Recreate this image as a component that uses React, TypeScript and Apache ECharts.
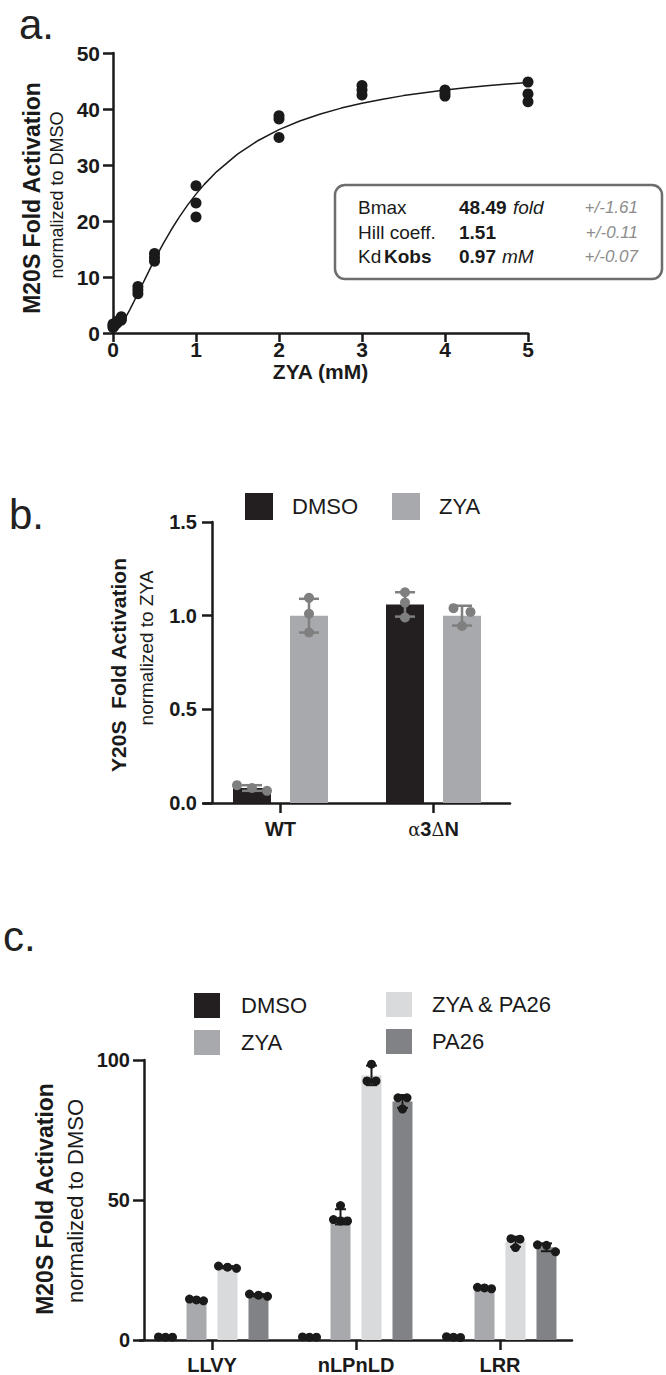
import React, { useEffect, useRef } from 'react';
import * as echarts from 'echarts';

const FONT = "'Liberation Sans', Arial, Helvetica, sans-serif";
const INK = '#1a1a1a';

// ---------- Panel a : dose response ----------
const aConc = [0, 0.05, 0.1, 0.3, 0.5, 1, 2, 3, 4, 5];
const aReps = [
  [1.0, 1.3, 1.6],
  [1.8, 2.1],
  [2.3, 2.6, 2.9],
  [7.0, 7.7, 8.3],
  [12.8, 13.5, 14.2],
  [20.7, 23.2, 26.3],
  [34.9, 38.2, 38.8],
  [42.5, 43.4, 44.2],
  [42.3, 42.8, 43.4],
  [41.3, 42.7, 44.8],
];
const fitX = [0, 0.05, 0.1, 0.15, 0.2, 0.25, 0.3, 0.35, 0.4, 0.45, 0.5, 0.6, 0.7, 0.8, 0.9, 1, 1.1, 1.25, 1.5, 1.75, 2, 2.25, 2.5, 2.75, 3, 3.25, 3.5, 3.75, 4, 4.25, 4.5, 4.75, 5];
const fitY = [0, 0.54, 1.52, 2.73, 4.09, 5.55, 7.05, 8.57, 10.08, 11.58, 13.04, 15.82, 18.39, 20.74, 22.88, 24.8, 26.54, 28.83, 31.95, 34.38, 36.31, 37.86, 39.12, 40.16, 41.03, 41.76, 42.39, 42.92, 43.38, 43.79, 44.14, 44.45, 44.73];
const fitLabels = ['Bmax', 'Hill coeff.', 'Kd'];
const fitValues = ['48.49', '1.51', '0.97'];
const fitUnits = ['fold', '', 'mM'];
const fitErrors = ['+/-1.61', '+/-0.11', '+/-0.07'];

// ---------- Panel b ----------
const bCats = ['WT', 'α3ΔN'];
const bNames = ['DMSO', 'ZYA'];
const bDMSO = [0.08, 1.06];
const bZYA = [1.0, 1.0];
const bDMSOPts = [[0.065, 0.095, 0.08], [0.99, 1.07, 1.125]];
const bZYAPts = [[0.91, 1.01, 1.095], [1.04, 1.02, 0.945]];
const bDMSOSd = [0.015, 0.065];
const bZYASd = [0.09, 0.053];

// ---------- Panel c ----------
const cCats = ['LLVY', 'nLPnLD', 'LRR'];
const cNames = ['DMSO', 'ZYA', 'ZYA & PA26', 'PA26'];
const cDMSO = [1.0, 1.0, 1.0];
const cZYA = [14.3, 44.0, 18.6];
const cZyaPa26 = [26.0, 94.5, 35.1];
const cPA26 = [16.0, 85.2, 33.1];
const cDMSOPts = [[1.0, 1.0, 1.1], [1.0, 1.1, 1.0], [1.0, 1.2, 0.9]];
const cZYAPts = [[14.0, 14.6, 14.3], [42.5, 42.5, 43.0, 48.0], [18.3, 18.8, 18.6]];
const cZyaPa26Pts = [[25.6, 26.0, 26.4], [98.5, 92.5, 92.5], [36.2, 36.0, 33.0]];
const cPA26Pts = [[15.6, 16.0, 16.4], [86.5, 86.5, 82.5], [34.0, 33.8, 31.5]];
const cDMSOSd = [0.05, 0.05, 0.15];
const cZYASd = [0.3, 2.7, 0.25];
const cZyaPa26Sd = [0.4, 3.5, 1.8];
const cPA26Sd = [0.4, 2.3, 1.4];

const C_DMSO = '#231f20';
const C_ZYA = '#a7a9ac';
const C_ZPA = '#d9dadb';
const C_PA = '#808285';

function overlay(
  xi: number, yi: number, means: number[], sds: number[], pts: number[][],
  barIndex: number, nBars: number, barW: number, gap: number,
  color: string, r: number, spacing: number, capW: number, lw: number, capBoth: boolean
) {
  return {
    type: 'custom',
    xAxisIndex: xi,
    yAxisIndex: yi,
    z: 5,
    silent: true,
    clip: false,
    data: means.map((m, i) => [i, m]),
    encode: { x: 0, y: 1 },
    renderItem: (params: any, api: any) => {
      const ci = params.dataIndex;
      const base = api.coord([ci, 0]);
      const step = barW * (1 + gap);
      const cx = base[0] + (barIndex - (nBars - 1) / 2) * step;
      const yOf = (v: number) => api.coord([ci, v])[1];
      const m = means[ci];
      const s = sds[ci];
      const yHi = yOf(m + s);
      const yLo = yOf(m - s);
      const ls = { stroke: color, lineWidth: lw };
      const children: any[] = [
        { type: 'line', shape: { x1: cx, y1: yHi, x2: cx, y2: yLo }, style: ls },
        { type: 'line', shape: { x1: cx - capW / 2, y1: yHi, x2: cx + capW / 2, y2: yHi }, style: ls },
      ];
      if (capBoth) {
        children.push({ type: 'line', shape: { x1: cx - capW / 2, y1: yLo, x2: cx + capW / 2, y2: yLo }, style: ls });
      }
      const ys = pts[ci].map(yOf);
      const order = ys.map((_, i) => i).sort((a, b) => ys[a] - ys[b]);
      const clusters: number[][] = [];
      order.forEach((idx) => {
        const last = clusters[clusters.length - 1];
        if (last && Math.abs(ys[idx] - ys[last[last.length - 1]]) < r * 1.8) last.push(idx);
        else clusters.push([idx]);
      });
      clusters.forEach((cl) => {
        cl.forEach((idx, k) => {
          const dx = (k - (cl.length - 1) / 2) * spacing;
          children.push({ type: 'circle', shape: { cx: cx + dx, cy: ys[idx], r }, style: { fill: color } });
        });
      });
      return { type: 'group', children };
    },
  };
}

const txt = (text: string, x: number, y: number, size: number, weight: string, opts: any = {}) => ({
  type: 'text',
  x,
  y,
  rotation: opts.rotation || 0,
  style: {
    text,
    fontSize: size,
    fontWeight: weight,
    fontStyle: opts.italic ? 'italic' : 'normal',
    fontFamily: FONT,
    fill: opts.fill || INK,
    textAlign: opts.align || 'left',
    align: opts.align || 'left',
    textVerticalAlign: 'middle',
    verticalAlign: 'middle',
  },
});

const axisCommon = (labelSize: number, tickLen: number, margin: number) => ({
  axisLine: { show: true, onZero: false, lineStyle: { color: INK, width: 2.5 } },
  axisTick: { show: true, length: tickLen, lineStyle: { color: INK, width: 2.5 } },
  splitLine: { show: false },
  axisLabel: { fontFamily: FONT, fontWeight: 'bold', fontSize: labelSize, color: INK, margin },
});

export default function App() {
  const ref = useRef<HTMLDivElement>(null);
  useEffect(() => {
    if (!ref.current) return;
    const chart = echarts.init(ref.current, undefined, { renderer: 'svg' });

    const scatterData: number[][] = [];
    aConc.forEach((x, i) => aReps[i].forEach((y) => scatterData.push([x, y])));

    const rowY = [207, 232, 256];
    const boxTexts: any[] = [];
    rowY.forEach((y, i) => {
      boxTexts.push(txt(fitLabels[i], 358, y, 19, 'normal'));
      boxTexts.push(txt(fitValues[i], 459, y, 19, 'bold'));
      boxTexts.push(txt(fitErrors[i], 638, y, 17, 'normal', { italic: true, fill: '#8c8c8c', align: 'right' }));
    });
    boxTexts.push(txt('Kobs', 384, rowY[2], 19, 'bold'));
    boxTexts.push(txt(fitUnits[0], 513, rowY[0], 19, 'normal', { italic: true }));
    boxTexts.push(txt(fitUnits[2], 502, rowY[2], 19, 'normal', { italic: true }));

    const R90 = Math.PI / 2;

    const option: any = {
      animation: false,
      backgroundColor: '#ffffff',
      textStyle: { fontFamily: FONT },
      grid: [
        { left: 113, top: 53, width: 415, height: 280 },
        { left: 204, top: 522, width: 306, height: 281 },
        { left: 140, top: 1060, width: 432, height: 280 },
      ],
      xAxis: [
        {
          type: 'value', gridIndex: 0, min: 0, max: 5, interval: 1,
          name: 'ZYA (mM)', nameLocation: 'middle', nameGap: 25,
          nameTextStyle: { fontFamily: FONT, fontWeight: 'bold', fontSize: 21, color: INK },
          ...axisCommon(21, 9, 6),
        },
        {
          type: 'category', gridIndex: 1, data: bCats,
          ...axisCommon(20, 10, 16),
          axisTick: { show: true, alignWithLabel: true, length: 10, lineStyle: { color: INK, width: 2.5 } },
          axisLabel: {
            margin: 16, color: INK,
            formatter: (v: string) => (v === 'α3ΔN' ? '{g|α}{b|3}{g|Δ}{b|N}' : '{b|' + v + '}'),
            rich: {
              b: { fontFamily: FONT, fontWeight: 'bold', fontSize: 20, color: INK },
              g: { fontFamily: "'DejaVu Serif', serif", fontWeight: 'normal', fontSize: 18, color: INK },
            },
          },
        },
        {
          type: 'category', gridIndex: 2, data: cCats,
          ...axisCommon(20, 10, 15),
          axisTick: { show: true, alignWithLabel: true, length: 10, lineStyle: { color: INK, width: 2.5 } },
        },
      ],
      yAxis: [
        { type: 'value', gridIndex: 0, min: 0, max: 50, interval: 10, ...axisCommon(21, 10, 13) },
        {
          type: 'value', gridIndex: 1, min: 0, max: 1.5, interval: 0.5, offset: -8,
          ...axisCommon(20, 10, 15),
          axisLabel: { fontFamily: FONT, fontWeight: 'bold', fontSize: 20, color: INK, margin: 15, formatter: (v: number) => v.toFixed(1) },
        },
        { type: 'value', gridIndex: 2, min: 0, max: 100, interval: 50, offset: -4, ...axisCommon(20, 11, 14) },
      ],
      legend: [
        {
          data: bNames, left: 240, top: 488, itemWidth: 28, itemHeight: 27, itemGap: 34, icon: 'rect',
          selectedMode: false,
          textStyle: { fontFamily: FONT, fontSize: 22, color: INK, padding: [0, 0, 0, 14] },
        },
        {
          data: [cNames[0], cNames[1]], orient: 'vertical', left: 189, top: 988, itemWidth: 26, itemHeight: 25,
          itemGap: 12, icon: 'rect', selectedMode: false,
          textStyle: { fontFamily: FONT, fontSize: 22, color: INK, padding: [0, 0, 0, 16] },
        },
        {
          data: [cNames[2], cNames[3]], orient: 'vertical', left: 381, top: 987, itemWidth: 26, itemHeight: 25,
          itemGap: 12, icon: 'rect', selectedMode: false,
          textStyle: { fontFamily: FONT, fontSize: 22, color: INK, padding: [0, 0, 0, 15] },
        },
      ],
      series: [
        {
          type: 'line', xAxisIndex: 0, yAxisIndex: 0, data: fitX.map((x, i) => [x, fitY[i]]),
          smooth: false, showSymbol: false, symbol: 'none',
          lineStyle: { color: INK, width: 1.5 }, z: 2, silent: true,
        },
        {
          type: 'scatter', xAxisIndex: 0, yAxisIndex: 0, data: scatterData, symbolSize: 11,
          itemStyle: { color: INK, opacity: 1 }, z: 3, silent: true,
        },
        { type: 'bar', name: bNames[0], xAxisIndex: 1, yAxisIndex: 1, data: bDMSO, barWidth: 38, barGap: '50%', itemStyle: { color: C_DMSO } },
        { type: 'bar', name: bNames[1], xAxisIndex: 1, yAxisIndex: 1, data: bZYA, barWidth: 38, barGap: '50%', itemStyle: { color: C_ZYA } },
        overlay(1, 1, bDMSO, bDMSOSd, bDMSOPts, 0, 2, 38, 0.5, '#7f7f7f', 5, 15, 20, 2.5, true),
        overlay(1, 1, bZYA, bZYASd, bZYAPts, 1, 2, 38, 0.5, '#7f7f7f', 5, 17, 20, 2.5, true),
        { type: 'bar', name: cNames[0], xAxisIndex: 2, yAxisIndex: 2, data: cDMSO, barWidth: 20, barGap: '55%', itemStyle: { color: C_DMSO } },
        { type: 'bar', name: cNames[1], xAxisIndex: 2, yAxisIndex: 2, data: cZYA, barWidth: 20, barGap: '55%', itemStyle: { color: C_ZYA } },
        { type: 'bar', name: cNames[2], xAxisIndex: 2, yAxisIndex: 2, data: cZyaPa26, barWidth: 20, barGap: '55%', itemStyle: { color: C_ZPA } },
        { type: 'bar', name: cNames[3], xAxisIndex: 2, yAxisIndex: 2, data: cPA26, barWidth: 20, barGap: '55%', itemStyle: { color: C_PA } },
        overlay(2, 2, cDMSO, cDMSOSd, cDMSOPts, 0, 4, 20, 0.55, INK, 4.5, 7, 11, 2, true),
        overlay(2, 2, cZYA, cZYASd, cZYAPts, 1, 4, 20, 0.55, INK, 4.5, 7, 11, 2, true),
        overlay(2, 2, cZyaPa26, cZyaPa26Sd, cZyaPa26Pts, 2, 4, 20, 0.55, INK, 4.5, 9, 11, 2, true),
        overlay(2, 2, cPA26, cPA26Sd, cPA26Pts, 3, 4, 20, 0.55, INK, 4.5, 9, 11, 2, true),
      ],
      graphic: [
        txt('a.', 19, 24, 42, 'normal', { fill: '#222' }),
        txt('b.', 9, 514, 42, 'normal', { fill: '#222' }),
        txt('c.', 3, 936, 42, 'normal', { fill: '#222' }),
        txt('M20S Fold Activation', 32, 198, 23, 'bold', { rotation: R90, align: 'center' }),
        txt('normalized to DMSO', 57, 195, 18, 'normal', { rotation: R90, align: 'center' }),
        txt('Y20S  Fold Activation', 118, 665, 21, 'bold', { rotation: R90, align: 'center' }),
        txt('normalized to ZYA', 146, 648, 19, 'normal', { rotation: R90, align: 'center' }),
        txt('M20S Fold Activation', 45, 1199, 23, 'bold', { rotation: R90, align: 'center' }),
        txt('normalized to DMSO', 75, 1201, 22, 'normal', { rotation: R90, align: 'center' }),
        {
          type: 'rect', shape: { x: 335, y: 185, width: 327, height: 94, r: 10 },
          style: { fill: '#ffffff', stroke: '#6d6d6d', lineWidth: 2.5 }, z: 10,
        },
        ...boxTexts.map((t) => ({ ...t, z: 11 })),
      ],
    };
    chart.setOption(option);
    return () => chart.dispose();
  }, []);
  return (
    <div
      ref={ref}
      style={{ position: 'absolute', left: 0, top: 0, width: 666, height: 1375, background: '#ffffff' }}
    />
  );
}
